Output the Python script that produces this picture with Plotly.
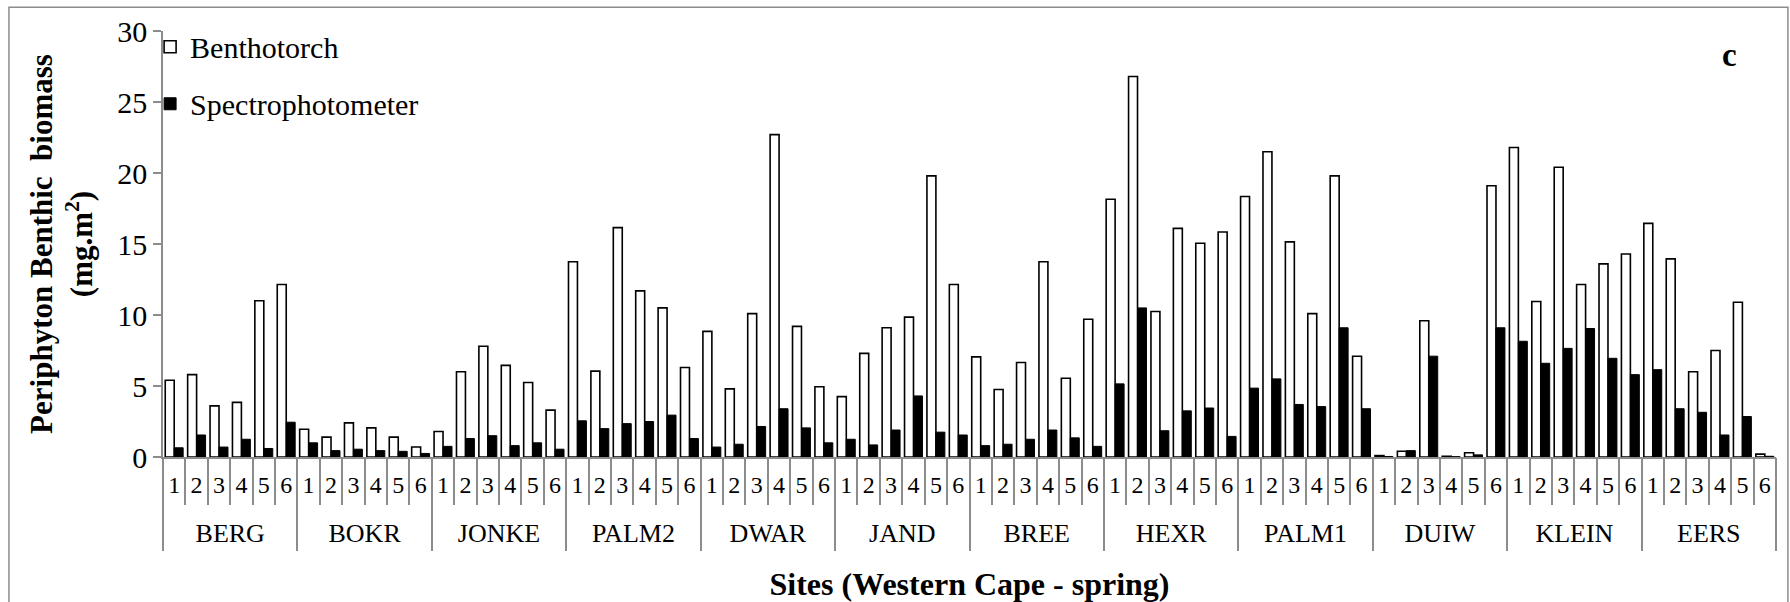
import plotly.graph_objects as go

sites = ["BERG", "BOKR", "JONKE", "PALM2", "DWAR", "JAND", "BREE", "HEXR", "PALM1", "DUIW", "KLEIN", "EERS"]
reps = ["1", "2", "3", "4", "5", "6"]

benthotorch = [
    5.4, 5.8, 3.6, 3.85, 11.0, 12.15,
    1.95, 1.4, 2.4, 2.05, 1.4, 0.7,
    1.8, 6.0, 7.8, 6.45, 5.25, 3.3,
    13.75, 6.05, 16.15, 11.7, 10.5, 6.3,
    8.85, 4.8, 10.1, 22.7, 9.2, 4.95,
    4.25, 7.3, 9.1, 9.85, 19.8, 12.15,
    7.05, 4.75, 6.65, 13.75, 5.55, 9.7,
    18.15, 26.8, 10.25, 16.1, 15.05, 15.85,
    18.35, 21.5, 15.15, 10.1, 19.8, 7.1,
    0.1, 0.4, 9.6, 0.05, 0.3, 19.1,
    21.8, 10.95, 20.4, 12.15, 13.6, 14.3,
    16.45, 13.95, 6.0, 7.5, 10.9, 0.2,
]

spectrophotometer = [
    0.65, 1.55, 0.7, 1.25, 0.6, 2.45,
    1.0, 0.45, 0.55, 0.45, 0.4, 0.25,
    0.75, 1.3, 1.5, 0.8, 1.0, 0.55,
    2.55, 2.0, 2.35, 2.5, 2.95, 1.3,
    0.7, 0.9, 2.15, 3.4, 2.05, 1.0,
    1.25, 0.85, 1.9, 4.3, 1.75, 1.55,
    0.8, 0.9, 1.25, 1.9, 1.35, 0.75,
    5.15, 10.5, 1.85, 3.25, 3.45, 1.45,
    4.85, 5.5, 3.7, 3.55, 9.1, 3.4,
    0.03, 0.45, 7.1, 0.02, 0.15, 9.1,
    8.15, 6.6, 7.65, 9.05, 6.95, 5.8,
    6.15, 3.4, 3.15, 1.55, 2.85, 0.05,
]

n_rep = len(reps)
n = len(sites) * n_rep
xs = list(range(n))
rep_labels = reps * len(sites)
group_centers = [k * n_rep + (n_rep - 1) / 2 for k in range(len(sites))]

FONT = "Liberation Serif"
GRAY = "#8c8c8c"

fig = go.Figure()
fig.add_trace(go.Bar(
    x=xs, y=benthotorch, name="Benthotorch",
    marker=dict(color="white", line=dict(color="black", width=1.6)),
    legendgroup="a",
))
fig.add_trace(go.Bar(
    x=xs, y=spectrophotometer, name="Spectrophotometer",
    marker=dict(color="black", line=dict(color="black", width=1)),
    legendgroup="b",
))
# invisible carrier trace so the site-level (group) axis is drawn
fig.add_trace(go.Scatter(
    x=group_centers, y=[0] * len(sites), xaxis="x2", yaxis="y",
    mode="none", showlegend=False, hoverinfo="skip",
))

fig.update_layout(
    width=1790, height=602,
    margin=dict(l=163, r=14, t=31, b=145, autoexpand=False),
    paper_bgcolor="white", plot_bgcolor="white",
    font=dict(family=FONT, color="black"),
    barmode="group", bargap=0.2, bargroupgap=0.0,
    showlegend=True,
    legend=dict(
        x=-0.008, y=1.024, xanchor="left", yanchor="top",
        font=dict(size=30, family=FONT), bgcolor="rgba(0,0,0,0)",
        tracegroupgap=15, itemwidth=30,
    ),
    xaxis=dict(
        automargin=False,
        range=[-0.5, n - 0.5], tickmode="array", tickvals=xs, ticktext=rep_labels,
        ticks="", showgrid=False, zeroline=False,
        showline=True, linecolor=GRAY, linewidth=1.5,
        tickfont=dict(size=24, family=FONT), ticklabelstandoff=5,
        minor=dict(tickmode="array", tickvals=[i - 0.5 for i in range(n + 1)],
                   ticks="outside", ticklen=46, tickcolor=GRAY, tickwidth=1.5, showgrid=False),
    ),
    xaxis2=dict(
        automargin=False,
        overlaying="x", anchor="y", side="bottom",
        range=[-0.5, n - 0.5], tickmode="array", tickvals=group_centers, ticktext=sites,
        ticks="", showgrid=False, zeroline=False, showline=False,
        tickfont=dict(size=26, family=FONT), ticklabelstandoff=58,
        minor=dict(tickmode="array", tickvals=[k * n_rep - 0.5 for k in range(len(sites) + 1)],
                   ticks="outside", ticklen=93, tickcolor=GRAY, tickwidth=1.5, showgrid=False),
        title=dict(text="<b>Sites (Western Cape - spring)</b>", font=dict(size=32, family=FONT), standoff=32),
    ),
    yaxis=dict(
        automargin=False,
        range=[0, 30], dtick=5, tick0=0, ticks="outside", ticklen=8, tickcolor=GRAY, tickwidth=1.5,
        showline=True, linecolor=GRAY, linewidth=1.5, showgrid=False, zeroline=False,
        tickfont=dict(size=30, family=FONT),
        title=dict(text="<b>Periphyton Benthic \u00a0biomass<br>(mg.m<sup>2</sup>)</b>",
                   font=dict(size=31, family=FONT), standoff=15),
    ),
)

fig.add_annotation(
    text="<b>c</b>", x=0.977, y=0.99, xref="paper", yref="paper",
    showarrow=False, font=dict(size=33, family=FONT, color="black"),
)

fig.add_shape(
    type="rect", xref="paper", yref="paper",
    x0=-0.0955, x1=1.0074, y0=-0.36, y1=1.056,
    line=dict(color=GRAY, width=1.5), fillcolor="rgba(0,0,0,0)", layer="below",
)

fig.write_html("out.html")
